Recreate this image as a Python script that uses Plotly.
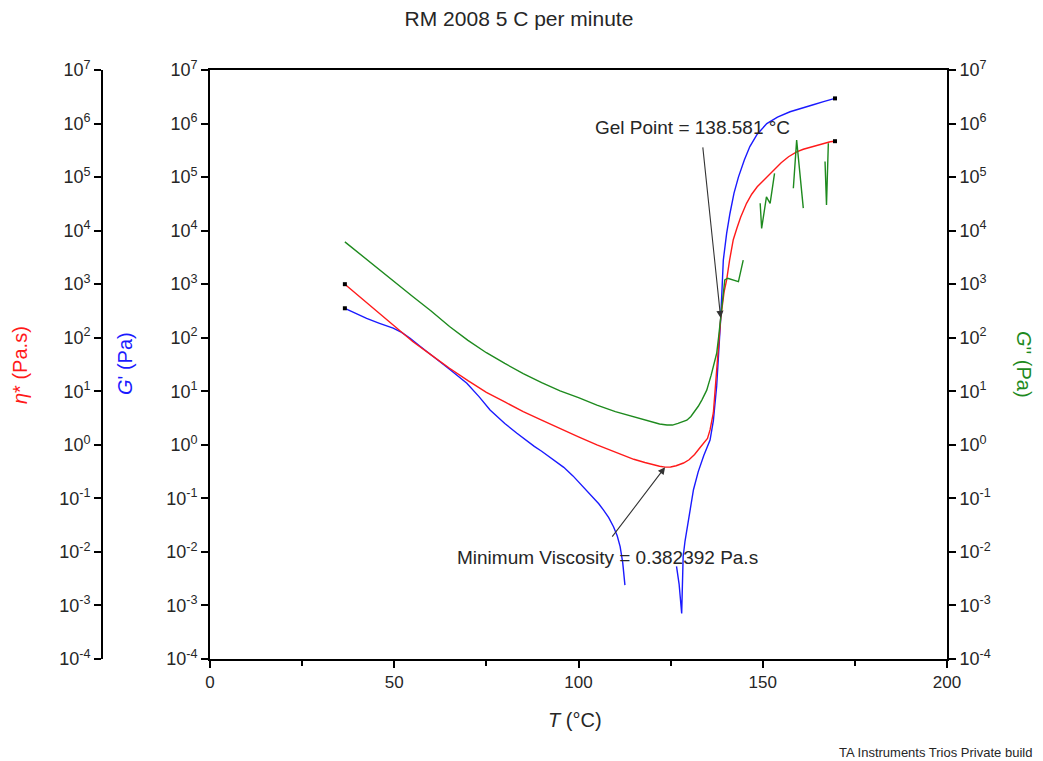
import plotly.graph_objects as go

# ---------------- data ----------------
T_eta = [36.6, 40, 45, 50, 55, 60, 65, 70, 75, 80, 85, 90, 95, 100, 105, 110, 115, 118, 120,
         122, 123.5, 125, 126.5, 128.5, 130, 131.5, 133, 134, 135, 135.7, 136.6, 137.5, 138.6,
         139.5, 140.2, 141, 142, 143, 144, 145.6, 147, 148.5, 151, 153, 155, 157, 159.2, 161,
         163, 166, 168.3, 169.6]
eta = [1000, 631, 324, 166, 85.1, 47.9, 26.9, 15.8, 9.55, 6.31, 4.17, 2.88, 2.0, 1.41, 1.0,
       0.724, 0.537, 0.468, 0.427, 0.398, 0.382392, 0.385, 0.407, 0.457, 0.525, 0.661, 0.891,
       1.10, 1.32, 1.9, 3.98, 25.1, 234, 708, 1200, 2820, 6760, 1.12e4, 1.78e4, 3.24e4, 4.79e4,
       6.61e4, 1.0e5, 1.38e5, 1.86e5, 2.4e5, 2.95e5, 3.31e5, 3.63e5, 4.17e5, 4.57e5, 4.68e5]

T_g1 = [36.6, 40, 42.5, 46, 49.7, 52, 54.3, 57, 60.6, 65, 69.7, 73, 76, 80, 83.2, 85, 88, 90,
        92.5, 96, 98.5, 100.4, 103.5, 105.5, 106.8, 108.2, 109.5, 110.5, 111.3, 112, 112.6,
        None,
        126.6, 127.3, 128.0, 128.4, 128.9, 129.4, 130.3, 131.2, 132.5, 134, 135.7, 136.6, 137.5,
        138.6, 139.3, 140.2, 141.1, 142.2, 143.4, 145, 146.5, 148.5, 151.1, 154, 157.4, 160.5,
        163.7, 166.5, 169.6]
g1 = [355, 275, 229, 186, 151, 126, 97.7, 69.2, 44.7, 25.7, 14.1, 7.94, 4.47, 2.51, 1.66, 1.32,
      0.933, 0.759, 0.575, 0.380, 0.263, 0.191, 0.112, 0.0794, 0.0603, 0.0437, 0.0295, 0.0200,
      0.0126, 0.00631, 0.0024,
      None,
      0.00537, 0.00251, 0.000708, 0.00813, 0.0158, 0.0257, 0.0631, 0.145, 0.316, 0.631, 1.23,
      2.82, 12.6, 234, 2820, 8910, 2.09e4, 5.01e4, 1.0e5, 2.09e5, 3.72e5, 6.31e5, 1.0e6,
      1.32e6, 1.66e6, 1.95e6, 2.24e6, 2.57e6, 2.95e6]

T_g2 = [36.6, 40, 45, 50, 55, 60, 65, 70, 75, 80, 85, 90, 95, 100, 105, 110, 115, 120, 122,
        124, 125.5, 127, 128.5, 129.4, 130.5, 131.5, 132.5, 133.5, 134.8, 136, 137, 137.5, 138,
        138.6, 139.2, 139.7, 140.5, 142, 143.4, 144.7,
        None, 149.3, 149.7, 151, 152, 153.2,
        None, 158.3, 159.2, 161,
        None, 166.9, 167.3, 167.8]
g2 = [6170, 3980, 2090, 1100, 589, 316, 162, 89.1, 52.5, 33.1, 21.4, 14.5, 10.2, 7.59, 5.5,
      4.17, 3.31, 2.63, 2.45, 2.34, 2.34, 2.51, 2.69, 2.88, 3.39, 4.17, 5.25, 6.92, 10.5, 20,
      35.5, 51.3, 100, 234, 631, 1200, 1290, 1200, 1120, 2820,
      None, 3.24e4, 1.1e4, 4.27e4, 3.24e4, 1.17e5,
      None, 6.17e4, 4.9e5, 2.63e4,
      None, 1.95e5, 3.02e4, 4.27e5]

gel_T = 138.581
gel_val = 234
min_T = 123.5
min_visc = 0.382392

x_ticks = [0, 50, 100, 150, 200]
y_exps = list(range(-4, 8))
y_tickvals = [10.0 ** e for e in y_exps]
y_ticktext = ["10<sup>%d</sup>" % e for e in y_exps]

# ---------------- figure ----------------
OFF = 8                      # page body margin
W, H = 1043 - OFF, 761 - OFF
L_PX, R_PX, T_PX, B_PX = 210 - OFF, 947 - OFF, 70 - OFF, 659 - OFF

RED = "#ff1a1a"
BLUE = "#1a1aff"
GREEN = "#1e8a1e"
FONT = "Liberation Sans, Arial, sans-serif"
TXT = "#262626"

fig = go.Figure()
fig.add_trace(go.Scatter(x=T_g1, y=g1, mode="lines", line=dict(color=BLUE, width=1.4),
                         yaxis="y", connectgaps=False))
fig.add_trace(go.Scatter(x=T_eta, y=eta, mode="lines", line=dict(color=RED, width=1.4),
                         yaxis="y2"))
fig.add_trace(go.Scatter(x=T_g2, y=g2, mode="lines", line=dict(color=GREEN, width=1.4),
                         yaxis="y3", connectgaps=False))
# end-point markers
fig.add_trace(go.Scatter(x=[T_g1[0], T_g1[-1]], y=[g1[0], g1[-1]], mode="markers",
                         marker=dict(color="black", size=4, symbol="square"), yaxis="y"))
fig.add_trace(go.Scatter(x=[T_eta[0], T_eta[-1]], y=[eta[0], eta[-1]], mode="markers",
                         marker=dict(color="black", size=4, symbol="square"), yaxis="y2"))

yax_common = dict(type="log", range=[-4, 7], tickvals=y_tickvals, ticktext=y_ticktext,
                  ticks="outside", ticklen=7, tickwidth=1.8, tickcolor="black",
                  showline=True, linecolor="black", linewidth=1.8, showgrid=False,
                  zeroline=False, automargin=False,
                  tickfont=dict(family=FONT, size=18, color=TXT))

fig.update_layout(
    template="none",
    width=W, height=H,
    margin=dict(l=0, r=0, t=T_PX, b=H - B_PX, autoexpand=False),
    plot_bgcolor="white", paper_bgcolor="white",
    showlegend=False,
    title=dict(text="RM 2008 5 C per minute", x=(519 - OFF) / W, xanchor="center",
               y=1 - (19 - OFF) / H, yanchor="middle", yref="container",
               font=dict(family=FONT, size=21, color=TXT)),
    xaxis=dict(domain=[L_PX / W, R_PX / W], range=[0, 200], tickvals=x_ticks,
               ticks="outside", ticklen=7, tickwidth=1.8, tickcolor="black",
               minor=dict(dtick=25, tick0=0, ticks="outside", ticklen=5, tickcolor="black",
                          tickwidth=1.5, showgrid=False),
               showline=True, linecolor="black", linewidth=1.8, mirror=True,
               showgrid=False, zeroline=False, automargin=False,
               tickfont=dict(family=FONT, size=17, color=TXT)),
    yaxis=dict(**yax_common, anchor="x", side="left"),
    yaxis2=dict(**yax_common, anchor="free", overlaying="y", side="left",
                position=(102 - OFF) / W),
    yaxis3=dict(**yax_common, anchor="x", overlaying="y", side="right"),
)


def px_x(px):
    return (px - OFF) / W


def px_y(py):
    return (B_PX - (py - OFF)) / (B_PX - T_PX)


def label(text, x, y, size, color=TXT, angle=0, xanchor="center"):
    return dict(text=text, x=px_x(x), y=px_y(y), xref="paper", yref="paper",
                xanchor=xanchor, yanchor="middle", textangle=angle, showarrow=False,
                font=dict(family=FONT, size=size, color=color))


annotations = [
    # axis titles
    label("<i>η</i>* (Pa.s)", 20, 365, 20, RED, -90),
    label("<i>G</i>' (Pa)", 125, 364, 20, BLUE, -90),
    label("<i>G</i>'' (Pa)", 1024, 364, 20, GREEN, 90),
    label("<i>T</i> (°C)", 575, 720, 20),
    label("TA Instruments Trios Private build", 1034, 752, 13, xanchor="right"),
    # callout texts
    label("Gel Point = %.3f °C" % gel_T, 692, 127, 19),
    label("Minimum Viscosity = %.6f Pa.s" % min_visc, 607, 557, 19),
    # arrows
    dict(text="", x=gel_T, y=2.37, xref="x", yref="y", showarrow=True, ax=-18, ay=-172,
         arrowhead=2, arrowsize=1.3, arrowwidth=1.1, arrowcolor="#333"),
    dict(text="", x=min_T, y=-0.4175, xref="x", yref="y", showarrow=True, ax=-54, ay=71,
         arrowhead=2, arrowsize=1.3, arrowwidth=1.1, arrowcolor="#333"),
]
fig.update_layout(annotations=annotations)

fig.write_html("out.html")
